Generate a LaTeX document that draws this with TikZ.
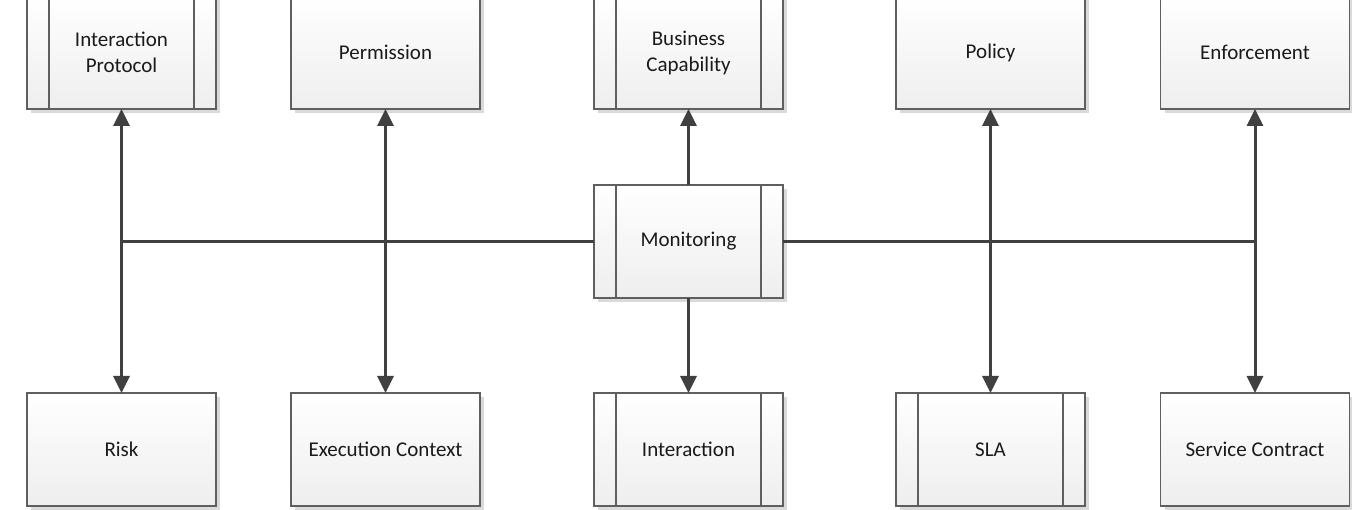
\documentclass[tikz,border=0pt]{standalone}
\usepackage{fontspec}
\setmainfont{Carlito}
\usetikzlibrary{arrows.meta,shadows}
\definecolor{boxline}{HTML}{5F5F5F}
\definecolor{boxbottom}{HTML}{EEEEEE}
\definecolor{shadowgray}{HTML}{DADADA}
\definecolor{linkgray}{HTML}{404040}
\definecolor{textcol}{HTML}{1A1A1A}
\begin{document}
\begin{tikzpicture}[x=1pt,y=-1pt,
  box/.style={draw=boxline, line width=1.2pt, top color=white, bottom color=boxbottom,
    minimum width=189pt, minimum height=113pt, inner sep=0pt, outer sep=0pt,
    align=center, text=textcol, font=\fontsize{21}{26}\selectfont,
    drop shadow={shadow xshift=4pt, shadow yshift=-4pt, fill=shadowgray, opacity=1}},
  barbox/.style={box, path picture={
    \draw[boxline, line width=1.2pt]
      ([xshift=22pt]path picture bounding box.north west) -- ([xshift=22pt]path picture bounding box.south west)
      ([xshift=-22pt]path picture bounding box.north east) -- ([xshift=-22pt]path picture bounding box.south east);}},
  link/.style={draw=linkgray, line width=3pt},
  tip/.style={-{Triangle[length=17pt,width=16pt]}, fill=linkgray},
  tips/.style={{Triangle[length=17pt,width=16pt]}-{Triangle[length=17pt,width=16pt]}, fill=linkgray}
]
\useasboundingbox (0,0) rectangle (1352,510);

% top row
\node[barbox] (ip)   at (121.5,52.5) {Interaction\\Protocol};
\node[box]    (perm) at (385.5,52.5) {Permission};
\node[barbox] (bc)   at (688.5,52.5) {Business\\Capability};
\node[box]    (pol)  at (990.5,52.5) {Policy};
\node[box]    (enf)  at (1255,52.5)  {Enforcement};

% centre
\node[barbox] (mon)  at (688.5,241.5) {Monitoring};

% bottom row
\node[box]    (risk) at (121.5,449.5) {Risk};
\node[box]    (exec) at (385.5,449.5) {Execution Context};
\node[barbox] (inter) at (688.5,449.5) {Interaction};
\node[barbox] (sla)  at (990.5,449.5) {SLA};
\node[box]    (sc)   at (1255,449.5)  {Service Contract};

% junctions of the horizontal bus
\coordinate (jl) at (121.5,241.5);
\coordinate (jr) at (1255,241.5);

% horizontal bus through the monitoring box
\draw[link] (mon.west) -- (jl);
\draw[link] (mon.east) -- (jr);

% vertical connectors
\draw[link, tips] (ip.south) -- (risk.north);
\draw[link, tips] (perm.south) -- (exec.north);
\draw[link, tip] (mon.north) -- (bc.south);
\draw[link, tip] (mon.south) -- (inter.north);
\draw[link, tips] (pol.south) -- (sla.north);
\draw[link, tips] (enf.south) -- (sc.north);
\end{tikzpicture}
\end{document}
